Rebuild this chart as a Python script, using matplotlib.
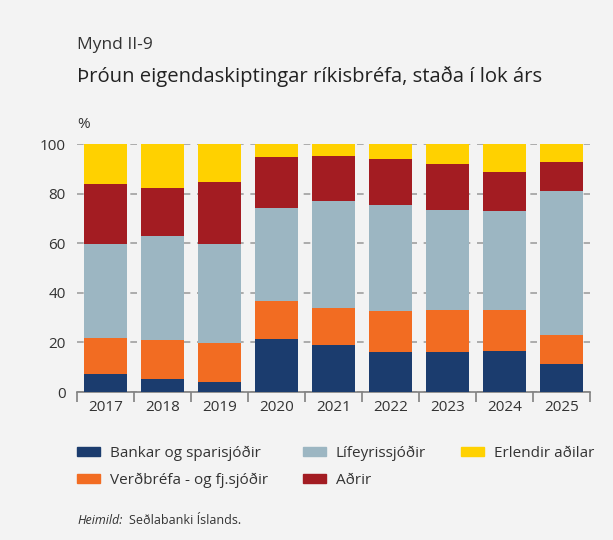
import numpy as np
import matplotlib.pyplot as plt
from matplotlib.patches import Patch

plt.rcParams['font.family'] = ['Open Sans', 'DejaVu Sans']

years = ['2017', '2018', '2019', '2020', '2021', '2022', '2023', '2024', '2025']
bankar = [7.1, 5.1, 3.9, 21.3, 18.8, 16.0, 16.0, 16.4, 11.2]
verdbrefa = [14.6, 15.8, 15.8, 15.3, 15.0, 16.6, 17.0, 16.6, 11.7]
lifeyris = [37.9, 42.0, 39.9, 37.6, 43.2, 42.8, 40.4, 39.9, 58.1]
adrir = [24.2, 19.3, 25.1, 20.5, 18.2, 18.5, 18.5, 15.8, 11.7]
erlendir = [16.2, 17.8, 15.3, 5.3, 4.8, 6.1, 8.1, 11.3, 7.3]

series = [
    ('Bankar og sparisjóðir', bankar, '#1b3c6e'),
    ('Verðbréfa - og fj.sjóðir', verdbrefa, '#f26c22'),
    ('Lífeyrissjóðir', lifeyris, '#9cb6c2'),
    ('Aðrir', adrir, '#a31c22'),
    ('Erlendir aðilar', erlendir, '#ffd100'),
]

bg = '#f3f3f3'
fig = plt.figure(figsize=(6.13, 5.4), dpi=100, facecolor=bg)
ax = fig.add_axes([77 / 613, 1 - 392 / 540, 513 / 613, 248 / 540], facecolor=bg)

x = np.arange(len(years))
bottom = np.zeros(len(years))
handles = []
for name, vals, col in series:
    ax.bar(x, vals, bottom=bottom, width=0.74, color=col, zorder=3, clip_on=False)
    bottom += np.array(vals)
    handles.append(Patch(color=col, label=name))

ax.set_xlim(-0.5, len(years) - 0.5)
ax.set_ylim(0, 100)
ax.set_yticks([0, 20, 40, 60, 80, 100])
ax.yaxis.grid(True, linestyle=(0, (4, 4)), color='#a0a0a0', linewidth=1.2, zorder=1)
for s in ['left', 'right', 'top']:
    ax.spines[s].set_visible(False)
ax.spines['bottom'].set_color('#808080')
ax.spines['bottom'].set_linewidth(1.2)

ax.set_xticks(x)
ax.set_xticklabels(years)
ax.set_xticks(np.arange(len(years) + 1) - 0.5, minor=True)
ax.tick_params(axis='x', which='major', length=0, labelsize=11, colors='#333333', pad=6)
ax.tick_params(axis='x', which='minor', length=7, color='#808080', width=1.2, direction='out')
ax.tick_params(axis='y', length=0, labelsize=11, colors='#333333', pad=8)

fig.text(77 / 613, 1 - 124 / 540, '%', fontsize=11, color='#333333', va='center')
fig.text(77 / 613, 1 - 45 / 540, 'Mynd II-9', fontsize=12.5, color='#333333', va='center')
fig.text(77 / 613, 1 - 77 / 540, 'Þróun eigendaskiptingar ríkisbréfa, staða í lok árs',
         fontsize=14.6, color='#222222', va='center')

fig.legend(handles=handles, ncol=3, loc='upper left', bbox_to_anchor=(77 / 613, 1 - 446 / 540),
           frameon=False, fontsize=11, handlelength=1.5, handleheight=0.55,
           handletextpad=0.65, columnspacing=2.3, labelspacing=0.75, labelcolor='#333333',
           borderpad=0, borderaxespad=0)

fig.text(77 / 613, 1 - 520 / 540, 'Heimild:', fontsize=9, style='italic', color='#333333', va='center')
fig.text(129 / 613, 1 - 520 / 540, 'Seðlabanki Íslands.', fontsize=9, color='#333333', va='center')

fig.savefig('out.png', dpi=100, facecolor=bg)
